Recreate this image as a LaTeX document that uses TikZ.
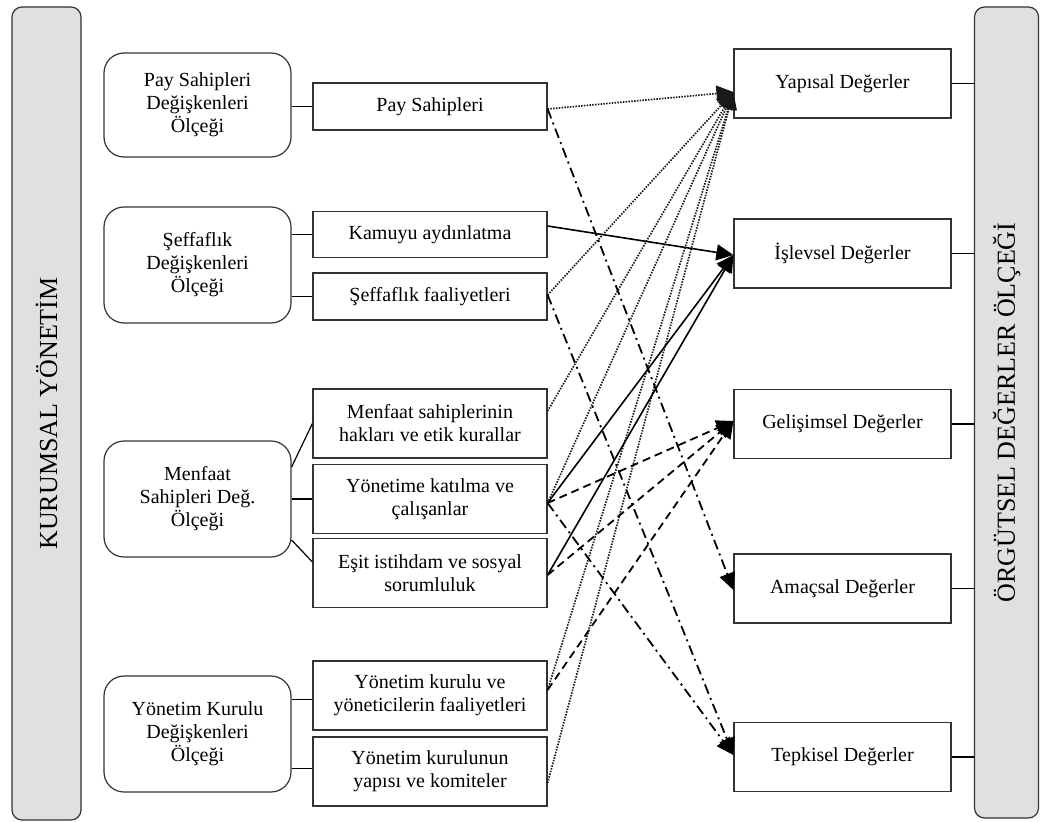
\documentclass[tikz,border=0pt]{standalone}
\usepackage{fontspec}
\setmainfont{Liberation Serif}
\usetikzlibrary{arrows.meta}
\definecolor{edge}{HTML}{333333}
\definecolor{barfill}{HTML}{E0E0E0}
\begin{document}
\begin{tikzpicture}[x=1pt,y=-1pt,
  every node/.style={font=\fontsize{20}{23}\selectfont, align=center, inner sep=0pt},
  bar/.style={draw=edge, line width=1.2pt, fill=barfill, rounded corners=10pt, rotate=90},
  group/.style={draw=edge, line width=1.2pt, rounded corners=20pt, minimum width=187pt, minimum height=116pt},
  item/.style={draw=edge, line width=1.2pt, minimum width=234pt, minimum height=69pt},
  value/.style={draw=edge, line width=1.2pt, minimum width=217pt, minimum height=69pt},
  link/.style={draw=black, line width=1.2pt},
  tip/.style={-{Triangle[length=17pt,width=16pt]}},
  solidarrow/.style={tip, line width=1.6pt},
  dottedarrow/.style={tip, line width=1.7pt, draw=black!90, dash pattern=on 1.5pt off 1.3pt},
  dashedarrow/.style={tip, line width=1.8pt, dash pattern=on 8pt off 5pt},
  dashdotarrow/.style={tip, line width=1.8pt, dash pattern=on 10pt off 4.5pt on 2pt off 4.5pt},
]
\useasboundingbox (0,0) rectangle (1040,821);

% side bars
\node[bar, minimum width=813pt, minimum height=69pt, font=\fontsize{26}{30}\selectfont] (lbar) at (46.5,413.5) {KURUMSAL YÖNETİM};
\node[bar, minimum width=811pt, minimum height=64pt, font=\fontsize{26}{30}\selectfont] (rbar) at (1006.5,412.5) {ÖRGÜTSEL DEĞERLER ÖLÇEĞİ};

% scale groups
\node[group, minimum height=104pt] (g1) at (197.5,105) {Pay Sahipleri\\Değişkenleri\\Ölçeği};
\node[group] (g2) at (197.5,265) {Şeffaflık\\Değişkenleri\\Ölçeği};
\node[group] (g3) at (197.5,499) {Menfaat\\Sahipleri Değ.\\Ölçeği};
\node[group] (g4) at (197.5,734) {Yönetim Kurulu\\Değişkenleri\\Ölçeği};

% sub-dimensions
\node[item, minimum height=47pt] (m1) at (430,106.5) {Pay Sahipleri};
\node[item, minimum height=46pt] (m2) at (430,234.5) {Kamuyu aydınlatma};
\node[item, minimum height=47pt] (m3) at (430,296.5) {Şeffaflık faaliyetleri};
\node[item] (m4) at (430,423.5) {Menfaat sahiplerinin\\hakları ve etik kurallar};
\node[item] (m5) at (430,499) {Yönetime katılma ve\\çalışanlar};
\node[item] (m6) at (430,573) {Eşit istihdam ve sosyal\\sorumluluk};
\node[item] (m7) at (430,695.5) {Yönetim kurulu ve\\yöneticilerin faaliyetleri};
\node[item] (m8) at (430,771.5) {Yönetim kurulunun\\yapısı ve komiteler};

% value dimensions
\node[value] (r1) at (842.5,83.5) {Yapısal Değerler};
\node[value] (r2) at (842.5,253.5) {İşlevsel Değerler};
\node[value] (r3) at (842.5,424) {Gelişimsel Değerler};
\node[value] (r4) at (842.5,588.5) {Amaçsal Değerler};
\node[value] (r5) at (842.5,757) {Tepkisel Değerler};

% groups to sub-dimensions
\draw[link] (m1.west -| g1.east) -- (m1.west);
\draw[link] (m2.west -| g2.east) -- (m2.west);
\draw[link] (m3.west -| g2.east) -- (m3.west);
\draw[link] ([yshift=32pt]g3.east) -- (m4.west);
\draw[link] (g3.east) -- (m5.west);
\draw[link] ([yshift=-41pt]g3.east) -- ([yshift=11pt]m6.west);
\draw[link] ([yshift=-4pt]m7.west -| g4.east) -- ([yshift=-4pt]m7.west);
\draw[link] ([yshift=3pt]m8.west -| g4.east) -- ([yshift=3pt]m8.west);

% values to the scale bar
\foreach \r in {r1,r2,r3,r4,r5}
  \draw[link] (\r.east) -- (\r.east -| rbar.north);

% dotted: to structural values
\draw[dottedarrow] ([yshift=-2.5pt]m1.east) -- ([yshift=-8.5pt]r1.west);
\draw[dottedarrow] ([yshift=1.5pt]m3.east) -- ([yshift=-8.5pt]r1.west);
\draw[dottedarrow] ([yshift=12.5pt]m4.east) -- ([yshift=-8.5pt]r1.west);
\draw[dottedarrow] ([yshift=-4pt]m5.east) -- ([yshift=-8.5pt]r1.west);
\draw[dottedarrow] ([yshift=5.5pt]m7.east) -- ([yshift=-8.5pt]r1.west);
\draw[dottedarrow] ([yshift=-11.5pt]m8.east) -- ([yshift=-8.5pt]r1.west);

% solid: to functional values
\draw[solidarrow] ([yshift=8.5pt]m2.east) -- ([yshift=-1.5pt]r2.west);
\draw[solidarrow] ([yshift=-4pt]m5.east) -- ([yshift=-1.5pt]r2.west);
\draw[solidarrow] ([yshift=-2pt]m6.east) -- ([yshift=-1.5pt]r2.west);

% dashed: to developmental values
\draw[dashedarrow] ([yshift=-4pt]m5.east) -- ([yshift=3pt]r3.west);
\draw[dashedarrow] ([yshift=-2pt]m6.east) -- ([yshift=3pt]r3.west);
\draw[dashedarrow] ([yshift=5.5pt]m7.east) -- ([yshift=3pt]r3.west);

% dash-dotted: to purposive and reactive values
\draw[dashdotarrow] ([yshift=-2.5pt]m1.east) -- ([yshift=-1.5pt]r4.west);
\draw[dashdotarrow] ([yshift=1.5pt]m3.east) -- ([yshift=2pt]r5.west);
\draw[dashdotarrow] ([yshift=-4pt]m5.east) -- ([yshift=2pt]r5.west);
\end{tikzpicture}
\end{document}
